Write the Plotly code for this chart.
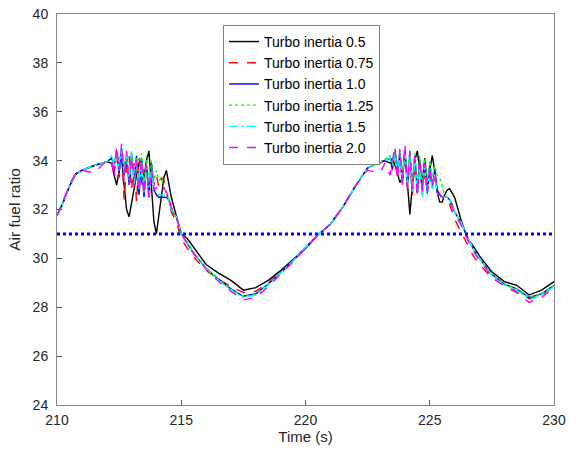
import plotly.graph_objects as go

# time axis (s)
time_s = [210.0, 210.25, 210.5, 210.75, 211.0, 211.5, 212.0,
          212.2, 212.3, 212.4, 212.5, 212.6, 212.7, 212.8, 212.9, 213.0, 213.1,
          213.2, 213.3, 213.4, 213.5, 213.6, 213.7, 213.8, 213.9, 214.0, 214.1,
          214.2, 214.3, 214.4, 214.5, 214.6,
          214.8, 215.0, 215.25, 215.5, 216.0, 216.5, 217.0, 217.5, 218.0, 218.5,
          219.0, 219.5, 220.0, 220.5, 221.0, 221.5, 222.0, 222.5, 223.0, 223.2,
          223.4, 223.5, 223.6, 223.7, 223.8, 223.9, 224.0, 224.1, 224.2, 224.3,
          224.4, 224.5, 224.6, 224.7, 224.8, 224.9, 225.0, 225.1, 225.2, 225.3,
          225.4, 225.5, 225.6, 225.7, 225.8, 225.9, 226.0,
          226.25, 226.5, 226.75, 227.0, 227.5, 228.0, 228.5, 229.0, 229.5, 230.0]

afr_05 = [31.75, 32.3, 32.95, 33.45, 33.6, 33.8, 33.95,
          33.9, 33.4, 33.0, 33.6, 34.1, 33.0, 32.0, 31.7, 32.3, 32.8,
          33.4, 33.9, 34.0, 33.3, 34.0, 34.4, 33.0, 31.5, 31.0, 31.8,
          32.6, 33.3, 33.6, 33.1, 32.5,
          31.75, 31.0, 30.8, 30.45, 29.75, 29.4, 29.1, 28.7, 28.8, 29.1,
          29.5, 29.95, 30.4, 30.95, 31.4, 32.1, 32.95, 33.7, 33.95, 34.0,
          33.9, 34.1, 33.8, 33.5, 33.1, 33.3, 34.4, 33.0, 31.8, 33.0,
          34.0, 34.4, 33.6, 33.1, 34.1, 33.0, 33.7, 34.2, 33.6, 32.7,
          32.3, 32.3, 32.6, 32.8, 32.85, 32.7, 32.5,
          31.6, 30.85, 30.5, 30.1, 29.45, 29.05, 28.9, 28.5, 28.7, 29.05]

afr_075 = [31.75, 32.3, 32.95, 33.45, 33.6, 33.8, 33.95,
           34.0, 33.6, 34.2, 33.3, 34.4, 32.4, 33.8, 34.2, 32.8, 33.9,
           32.3, 34.1, 33.2, 32.6, 33.9, 32.4, 33.6, 33.0, 33.4, 32.9,
           33.3, 33.2, 32.7, 32.4, 31.9,
           31.5, 30.8, 30.4, 30.05, 29.5, 29.15, 28.85, 28.6, 28.65, 29.0,
           29.45, 29.9, 30.45, 30.95, 31.4, 32.1, 32.95, 33.7, 33.9, 34.0,
           34.0, 33.6, 34.3, 33.4, 34.1, 33.0, 34.2, 32.8, 34.0, 32.6,
           33.9, 32.5, 33.8, 32.6, 33.6, 32.7, 33.5, 32.9, 33.3, 32.8,
           32.6, 32.5, 32.5, 32.4, 32.2, 31.9, 31.6,
           31.1, 30.6, 30.1, 29.75, 29.2, 28.9, 28.65, 28.35, 28.5, 28.85]

afr_10 = [31.75, 32.3, 32.95, 33.45, 33.6, 33.8, 33.95,
          34.1, 33.8, 34.4, 33.5, 34.5, 33.4, 34.2, 33.0, 34.3, 33.1,
          34.2, 32.6, 34.1, 32.5, 33.8, 32.7, 33.9, 32.8, 32.6, 32.5,
          32.5, 32.5, 32.5, 32.4, 32.0,
          31.7, 31.0, 30.6, 30.2, 29.6, 29.15, 28.75, 28.45, 28.55, 28.95,
          29.4, 29.9, 30.45, 30.95, 31.4, 32.1, 32.95, 33.7, 33.95, 34.0,
          34.1, 33.7, 34.4, 33.5, 34.3, 33.2, 34.4, 33.0, 34.3, 32.8,
          34.2, 32.7, 34.0, 32.8, 33.9, 32.7, 33.8, 32.9, 33.6, 32.8,
          32.6, 32.5, 32.5, 32.5, 32.4, 32.2, 31.9,
          31.5, 30.9, 30.4, 30.0, 29.35, 28.95, 28.75, 28.4, 28.55, 28.9]

afr_125 = [31.75, 32.3, 32.95, 33.45, 33.6, 33.8, 33.95,
           34.2, 33.9, 34.3, 34.0, 34.5, 33.8, 34.3, 33.4, 34.4, 33.3,
           34.1, 33.0, 34.3, 32.9, 34.2, 33.1, 34.0, 33.2, 33.6, 33.2,
           33.3, 32.9, 32.7, 32.4, 32.0,
           31.7, 31.0, 30.65, 30.25, 29.6, 29.15, 28.75, 28.45, 28.55, 28.95,
           29.4, 29.9, 30.45, 30.95, 31.4, 32.1, 32.95, 33.7, 33.95, 34.05,
           34.2, 33.9, 34.5, 33.8, 34.4, 33.4, 34.5, 33.2, 34.4, 33.1,
           34.3, 33.0, 34.2, 33.0, 34.1, 33.1, 34.0, 33.3, 33.8, 33.4,
           33.3, 32.9, 32.6, 32.5, 32.4, 32.2, 31.9,
           31.5, 30.9, 30.4, 30.0, 29.35, 28.95, 28.75, 28.4, 28.55, 28.9]

afr_15 = [31.75, 32.3, 32.95, 33.45, 33.6, 33.8, 33.95,
          34.2, 33.8, 34.3, 33.6, 34.4, 33.5, 34.2, 33.2, 34.3, 33.0,
          34.0, 32.8, 34.0, 32.7, 33.7, 32.6, 33.6, 32.9, 32.7, 32.6,
          32.6, 32.6, 32.5, 32.4, 32.0,
          31.7, 31.0, 30.6, 30.2, 29.6, 29.1, 28.7, 28.4, 28.5, 28.9,
          29.4, 29.9, 30.45, 30.95, 31.4, 32.1, 32.95, 33.7, 33.95, 34.0,
          34.1, 33.8, 34.3, 33.4, 34.2, 33.1, 34.4, 32.9, 34.2, 32.7,
          34.1, 32.6, 33.9, 32.5, 33.8, 32.6, 33.7, 32.8, 33.5, 32.6,
          32.5, 32.5, 32.5, 32.5, 32.4, 32.2, 31.9,
          31.5, 30.9, 30.4, 30.0, 29.3, 28.9, 28.7, 28.3, 28.5, 28.85]

afr_20 = [31.75, 32.35, 33.0, 33.5, 33.6, 33.5, 34.0,
          34.0, 33.3, 34.6, 33.6, 34.7, 33.2, 34.4, 33.0, 34.2, 32.9,
          34.0, 32.7, 34.1, 32.6, 33.9, 32.5, 33.7, 32.8, 32.9, 32.8,
          32.7, 32.9, 32.7, 32.5, 32.1,
          31.7, 31.0, 30.6, 30.2, 29.55, 29.05, 28.65, 28.3, 28.4, 28.85,
          29.35, 29.85, 30.4, 30.95, 31.4, 32.1, 32.95, 33.6, 33.5, 33.9,
          33.4, 34.0, 34.6, 33.2, 34.5, 33.0, 34.7, 32.9, 34.4, 32.8,
          34.2, 32.6, 34.1, 32.7, 33.9, 32.6, 33.8, 32.9, 33.6, 32.7,
          32.6, 32.5, 32.5, 32.4, 32.3, 32.1, 31.8,
          31.4, 30.8, 30.3, 29.9, 29.25, 28.85, 28.6, 28.2, 28.4, 28.8]

ref_time = [210, 230]
ref_afr = [31, 31]

series = [
    ("Turbo inertia 0.5", afr_05, "black", "solid"),
    ("Turbo inertia 0.75", afr_075, "rgb(255,0,0)", "dash"),
    ("Turbo inertia 1.0", afr_10, "rgb(0,0,255)", "solid"),
    ("Turbo inertia 1.25", afr_125, "rgb(0,255,0)", "dot"),
    ("Turbo inertia 1.5", afr_15, "rgb(0,255,255)", "dashdot"),
    ("Turbo inertia 2.0", afr_20, "rgb(255,0,255)", "dash"),
]

fig = go.Figure()
for name, vals, col, dash in series:
    fig.add_trace(go.Scatter(x=time_s, y=vals, mode="lines", name=name,
                             line=dict(color=col, width=1.4, dash=dash)))

# target AFR line
fig.add_trace(go.Scatter(x=ref_time, y=ref_afr, mode="lines", showlegend=False,
                         line=dict(color="rgb(0,0,255)", width=3, dash="dot")))

font_fam = "Liberation Sans, Arial"
axis_style = dict(showline=True, mirror=True, linecolor="#888888", linewidth=1,
                  ticks="inside", ticklen=5, tickcolor="#555555",
                  showgrid=False, zeroline=False, automargin=False,
                  tickfont=dict(family=font_fam, size=14, color="#262626"))

fig.update_layout(
    width=577, height=453,
    margin=dict(l=57, r=23, t=14, b=48),
    plot_bgcolor="white", paper_bgcolor="white",
    font=dict(family=font_fam, size=13, color="#262626"),
    legend=dict(x=0.334, y=0.972, xanchor="left", yanchor="top",
                bordercolor="#808080", borderwidth=1, bgcolor="white",
                font=dict(size=14, color="black"), tracegroupgap=0,
                itemwidth=30),
)
fig.update_xaxes(range=[210, 230], tickvals=[210, 215, 220, 225, 230],
                 ticklabelstandoff=2,
                 title=dict(text="Time (s)", font=dict(size=15), standoff=2), **axis_style)
fig.update_yaxes(range=[24, 40], tickvals=list(range(24, 41, 2)),
                 ticklabelstandoff=5,
                 title=dict(text="Air fuel ratio", font=dict(size=15.5), standoff=8), **axis_style)

# drop the default page margin so the figure sits at the window corner
fig.write_html("out.html", config={"displayModeBar": False},
               post_script="document.body.style.margin='0';")
